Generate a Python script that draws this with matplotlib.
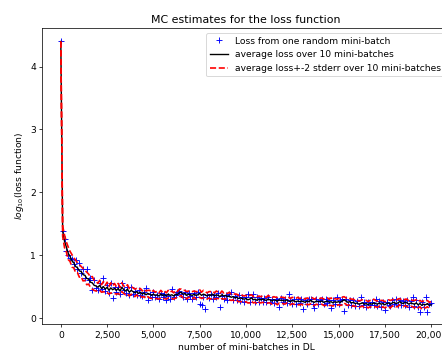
import numpy as np
import matplotlib
matplotlib.use("Agg")
import matplotlib.pyplot as plt
from matplotlib.ticker import StrMethodFormatter

# mini-batch index, one point every 100 mini-batches
n_batch = np.arange(0, 20001, 100)

# log10 loss of a single random mini-batch
loss_one = [
    4.40, 1.38, 1.25, 1.06, 1.00, 0.95, 0.94, 0.86, 0.93, 0.78,
    0.87, 0.72, 0.78, 0.64, 0.78, 0.60, 0.64, 0.45, 0.60, 0.47,
    0.45, 0.55, 0.46, 0.64, 0.43, 0.52, 0.40, 0.56, 0.32, 0.49,
    0.42, 0.50, 0.38, 0.56, 0.44, 0.40, 0.50, 0.37, 0.50, 0.39,
    0.43, 0.36, 0.44, 0.37, 0.35, 0.42, 0.47, 0.28, 0.38, 0.34,
    0.41, 0.33, 0.36, 0.30, 0.40, 0.34, 0.39, 0.28, 0.35, 0.31,
    0.46, 0.33, 0.36, 0.42, 0.43, 0.38, 0.33, 0.42, 0.31, 0.40,
    0.35, 0.31, 0.40, 0.33, 0.42, 0.23, 0.21, 0.33, 0.14, 0.36,
    0.32, 0.39, 0.31, 0.37, 0.34, 0.40, 0.18, 0.35, 0.31, 0.37,
    0.29, 0.39, 0.41, 0.29, 0.35, 0.28, 0.36, 0.27, 0.33, 0.26,
    0.33, 0.38, 0.26, 0.34, 0.38, 0.26, 0.33, 0.25, 0.32, 0.26,
    0.32, 0.25, 0.33, 0.26, 0.31, 0.24, 0.31, 0.29, 0.18, 0.32,
    0.25, 0.31, 0.24, 0.39, 0.28, 0.23, 0.31, 0.22, 0.30, 0.24,
    0.31, 0.14, 0.28, 0.23, 0.30, 0.31, 0.22, 0.16, 0.30, 0.23,
    0.29, 0.31, 0.22, 0.30, 0.24, 0.29, 0.16, 0.28, 0.22, 0.34,
    0.23, 0.29, 0.31, 0.105, 0.31, 0.21, 0.29, 0.20, 0.28, 0.19,
    0.27, 0.19, 0.34, 0.21, 0.26, 0.18, 0.25, 0.20, 0.26, 0.21,
    0.30, 0.19, 0.27, 0.18, 0.26, 0.13, 0.26, 0.21, 0.19, 0.28,
    0.22, 0.31, 0.20, 0.29, 0.21, 0.27, 0.20, 0.28, 0.18, 0.27,
    0.33, 0.19, 0.28, 0.18, 0.10, 0.25, 0.17, 0.33, 0.09, 0.23,
    0.24,
]

# average log10 loss over 10 mini-batches
loss_avg = [
    4.40, 1.38, 1.22, 1.13, 1.03, 0.98, 0.91, 0.88, 0.82, 0.80,
    0.75, 0.74, 0.69, 0.68, 0.63, 0.62, 0.57, 0.56, 0.52, 0.51,
    0.49, 0.52, 0.47, 0.50, 0.46, 0.49, 0.44, 0.48, 0.45, 0.47,
    0.44, 0.47, 0.43, 0.49, 0.45, 0.43, 0.46, 0.41, 0.44, 0.42,
    0.40, 0.42, 0.39, 0.41, 0.38, 0.40, 0.37, 0.39, 0.38, 0.36,
    0.38, 0.36, 0.37, 0.35, 0.38, 0.36, 0.37, 0.35, 0.38, 0.36,
    0.37, 0.35, 0.38, 0.37, 0.40, 0.41, 0.38, 0.39, 0.36, 0.38,
    0.37, 0.36, 0.38, 0.36, 0.37, 0.39, 0.36, 0.38, 0.37, 0.35,
    0.37, 0.36, 0.38, 0.35, 0.37, 0.36, 0.34, 0.37, 0.35, 0.36,
    0.34, 0.35, 0.33, 0.34, 0.32, 0.33, 0.31, 0.32, 0.31, 0.30,
    0.31, 0.29, 0.30, 0.32, 0.29, 0.30, 0.28, 0.30, 0.29, 0.30,
    0.29, 0.28, 0.30, 0.29, 0.27, 0.29, 0.28, 0.27, 0.29, 0.28,
    0.28, 0.27, 0.29, 0.27, 0.26, 0.28, 0.27, 0.26, 0.27, 0.26,
    0.27, 0.26, 0.25, 0.27, 0.26, 0.28, 0.26, 0.25, 0.27, 0.26,
    0.26, 0.27, 0.25, 0.26, 0.27, 0.25, 0.26, 0.24, 0.26, 0.25,
    0.26, 0.25, 0.27, 0.29, 0.27, 0.25, 0.26, 0.24, 0.25, 0.23,
    0.24, 0.22, 0.23, 0.24, 0.22, 0.23, 0.21, 0.23, 0.22, 0.24,
    0.23, 0.22, 0.24, 0.22, 0.23, 0.21, 0.23, 0.24, 0.22, 0.24,
    0.25, 0.23, 0.24, 0.26, 0.24, 0.23, 0.25, 0.24, 0.22, 0.24,
    0.23, 0.22, 0.24, 0.21, 0.23, 0.20, 0.22, 0.21, 0.23, 0.20,
    0.21,
]

# standard error of the 10-batch average
loss_se = [
    0.00, 0.04, 0.05, 0.04, 0.05, 0.04, 0.05, 0.04, 0.05, 0.04,
    0.05, 0.04, 0.05, 0.04, 0.05, 0.04, 0.04, 0.05, 0.04, 0.04,
    0.03, 0.04, 0.03, 0.04, 0.03, 0.04, 0.03, 0.04, 0.03, 0.04,
    0.03, 0.04, 0.03, 0.035, 0.03, 0.03, 0.035, 0.03, 0.03, 0.03,
    0.03, 0.025, 0.03, 0.03, 0.025, 0.03, 0.03, 0.025, 0.03, 0.025,
    0.03, 0.025, 0.03, 0.025, 0.03, 0.025, 0.03, 0.025, 0.03, 0.025,
    0.03, 0.025, 0.03, 0.025, 0.03, 0.025, 0.03, 0.025, 0.03, 0.025,
    0.025, 0.03, 0.025, 0.03, 0.025, 0.03, 0.025, 0.03, 0.025, 0.025,
    0.025, 0.03, 0.025, 0.025, 0.03, 0.025, 0.025, 0.03, 0.025, 0.025,
    0.025, 0.03, 0.025, 0.025, 0.03, 0.025, 0.025, 0.03, 0.025, 0.025,
    0.025, 0.025, 0.03, 0.025, 0.025, 0.025, 0.03, 0.025, 0.025, 0.025,
    0.025, 0.025, 0.03, 0.025, 0.025, 0.025, 0.025, 0.03, 0.025, 0.025,
    0.025, 0.025, 0.025, 0.03, 0.025, 0.025, 0.025, 0.025, 0.03, 0.025,
    0.025, 0.03, 0.025, 0.025, 0.025, 0.025, 0.03, 0.025, 0.025, 0.025,
    0.025, 0.025, 0.025, 0.03, 0.025, 0.025, 0.03, 0.025, 0.025, 0.025,
    0.025, 0.025, 0.03, 0.025, 0.025, 0.025, 0.025, 0.03, 0.025, 0.025,
    0.025, 0.025, 0.025, 0.025, 0.03, 0.025, 0.025, 0.025, 0.025, 0.03,
    0.025, 0.025, 0.025, 0.03, 0.025, 0.025, 0.025, 0.025, 0.03, 0.025,
    0.025, 0.025, 0.03, 0.025, 0.025, 0.025, 0.025, 0.03, 0.025, 0.025,
    0.025, 0.03, 0.025, 0.025, 0.025, 0.03, 0.025, 0.025, 0.025, 0.025,
    0.025,
]

loss_avg = np.array(loss_avg)
loss_se = np.array(loss_se)

DPI = 66
fig = plt.figure(figsize=(442 / DPI, 352 / DPI), dpi=DPI)
# the right part of the axes runs off the saved picture, as in the original
ax = fig.add_axes([42.3 / 442, (352 - 324.3) / 352, (449.6 - 42.3) / 442, (324.3 - 28.3) / 352])

ax.plot(n_batch, loss_one, 'b+', label='Loss from one random mini-batch')
ax.plot(n_batch, loss_avg, 'k-', label='average loss over 10 mini-batches')
ax.plot(n_batch, loss_avg + 2 * loss_se, 'r--', lw=1.8, label='average loss+-2 stderr over 10 mini-batches')
ax.plot(n_batch, loss_avg - 2 * loss_se, 'r--', lw=1.8)

ax.set_xlim(-1000, 21000)
ax.set_ylim(-0.1, 4.61)
ax.xaxis.set_major_formatter(StrMethodFormatter('{x:,.0f}'))
ax.set_title('MC estimates for the loss function')
ax.set_xlabel('number of mini-batches in DL')
ax.set_ylabel('$log_{10}$(loss function)')
ax.legend(loc='upper right')

fig.savefig('out.png', dpi=DPI)
